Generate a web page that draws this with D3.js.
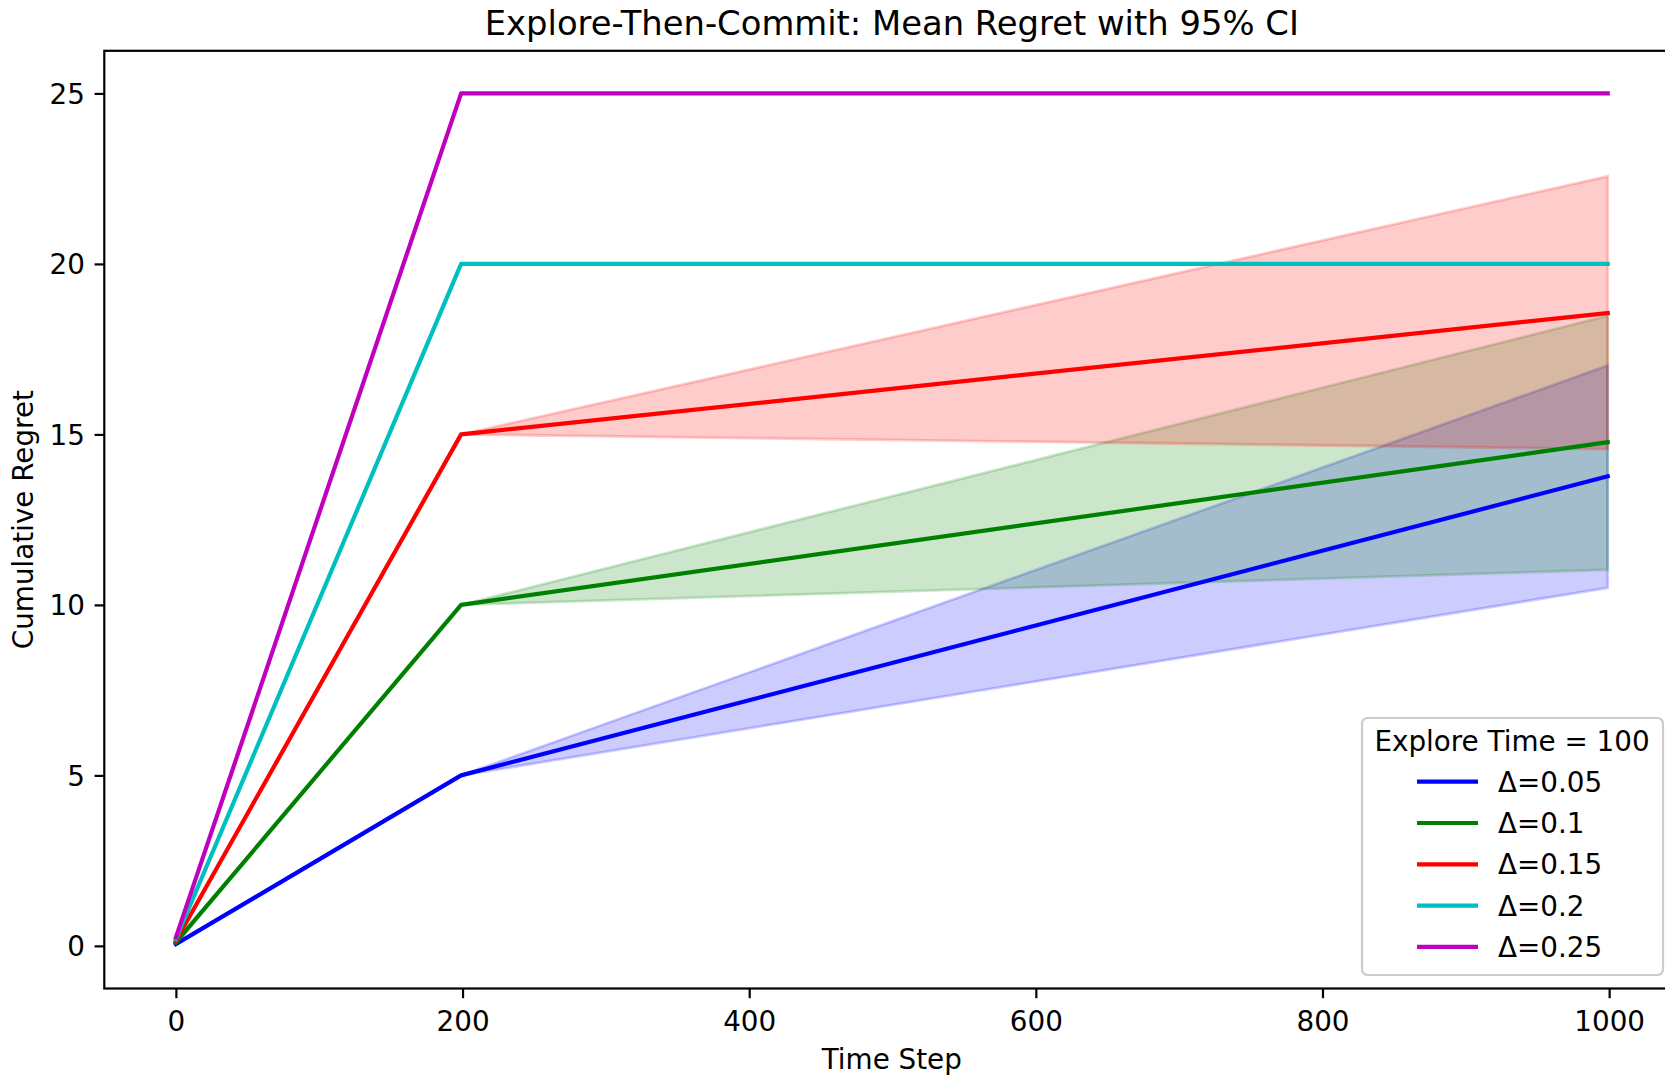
<!DOCTYPE html>
<html>
<head>
<meta charset="utf-8">
<script src="https://cdn.jsdelivr.net/npm/d3@7"></script>
<style>
  body { margin: 0; background: #fff; }
  svg { display: block; font-family: "DejaVu Sans", sans-serif; }
</style>
</head>
<body>
<svg id="chart" width="1665" height="1075"></svg>
<script>
// time steps where the curves are sampled
const timeSteps = [0, 199, 999];
const deltaLabels = ["Δ=0.05", "Δ=0.1", "Δ=0.15", "Δ=0.2", "Δ=0.25"];
const seriesColors = ["#0000ff", "#008000", "#ff0000", "#00bfbf", "#bf00bf"];

// mean cumulative regret per delta
const meanRegret = [
  [0.05, 5, 13.77],
  [0.1, 10, 14.77],
  [0.15, 15, 18.56],
  [0.2, 20, 20],
  [0.25, 25, 25]
];
// 95% CI bounds
const lowerCI = [
  [0.05, 5, 10.5],
  [0.1, 10, 11.03],
  [0.15, 15, 14.57],
  [0.2, 20, 20],
  [0.25, 25, 25]
];
const upperCI = [
  [0.05, 5, 17.02],
  [0.1, 10, 18.48],
  [0.15, 15, 22.57],
  [0.2, 20, 20],
  [0.25, 25, 25]
];
const xTicks = [0, 200, 400, 600, 800, 1000];
const yTicks = [0, 5, 10, 15, 20, 25];

const svg = d3.select("#chart");
const plotLeft = 104.3, plotRight = 1679.3, plotTop = 50.8, plotBottom = 988.5;

let xScale = d3.scaleLinear().domain([-49.95, 1048.95]).range([plotLeft, plotRight]);
let yScale = d3.scaleLinear().domain([-1.25, 26.25]).range([plotBottom, plotTop]);

svg.append("defs").append("clipPath").attr("id", "plotClip")
  .append("rect")
  .attr("x", plotLeft).attr("y", plotTop)
  .attr("width", plotRight - plotLeft).attr("height", plotBottom - plotTop);

const plot = svg.append("g").attr("clip-path", "url(#plotClip)");

// confidence bands (drawn under the lines, like matplotlib zorder)
let band = d3.area()
  .x((d) => xScale(d.t))
  .y0((d) => yScale(d.lo))
  .y1((d) => yScale(d.hi));

meanRegret.forEach((m, i) => {
  let pts = timeSteps.map((t, j) => ({ t: t, lo: lowerCI[i][j], hi: upperCI[i][j] }));
  plot.append("path")
    .datum(pts)
    .attr("d", band)
    .attr("fill", seriesColors[i])
    .attr("fill-opacity", 0.2)
    .attr("stroke", seriesColors[i])
    .attr("stroke-opacity", 0.2)
    .attr("stroke-width", 2.8);
});

let valueLine = d3.line()
  .x((d) => xScale(d.t))
  .y((d) => yScale(d.v));

meanRegret.forEach((m, i) => {
  plot.append("path")
    .datum(timeSteps.map((t, j) => ({ t: t, v: m[j] })))
    .attr("d", valueLine)
    .attr("fill", "none")
    .attr("stroke", seriesColors[i])
    .attr("stroke-width", 4.2)
    .attr("stroke-linecap", "square")
    .attr("stroke-linejoin", "round");
});

// axes
const xAxis = svg.append("g")
  .attr("transform", `translate(0, ${plotBottom})`)
  .call(d3.axisBottom(xScale).tickValues(xTicks).tickFormat(d3.format("d"))
    .tickSize(9.7).tickPadding(11.5).tickSizeOuter(0));
const yAxis = svg.append("g")
  .attr("transform", `translate(${plotLeft}, 0)`)
  .call(d3.axisLeft(yScale).tickValues(yTicks).tickFormat(d3.format("d"))
    .tickSize(9.7).tickPadding(9.7).tickSizeOuter(0));

[xAxis, yAxis].forEach((ax) => {
  ax.select(".domain").remove();
  ax.selectAll(".tick line").attr("stroke", "#000").attr("stroke-width", 2.2);
  ax.selectAll(".tick text")
    .attr("fill", "#000")
    .style("font-family", "DejaVu Sans")
    .style("font-size", "27.8px");
});
xAxis.selectAll(".tick text").attr("dy", "0.76em");
yAxis.selectAll(".tick text").attr("dy", "0.36em");

// spines
svg.append("rect")
  .attr("x", plotLeft).attr("y", plotTop)
  .attr("width", plotRight - plotLeft).attr("height", plotBottom - plotTop)
  .attr("fill", "none")
  .attr("stroke", "#000")
  .attr("stroke-width", 2.2)
  .attr("stroke-linejoin", "miter");

// title and axis labels
svg.append("text")
  .attr("x", (plotLeft + plotRight) / 2)
  .attr("y", 35)
  .attr("text-anchor", "middle")
  .style("font-size", "33.8px")
  .text("Explore-Then-Commit: Mean Regret with 95% CI");

svg.append("text")
  .attr("x", (plotLeft + plotRight) / 2)
  .attr("y", 1069)
  .attr("text-anchor", "middle")
  .style("font-size", "27.8px")
  .text("Time Step");

svg.append("text")
  .attr("transform", `translate(33, ${(plotTop + plotBottom) / 2}) rotate(-90)`)
  .attr("text-anchor", "middle")
  .style("font-size", "27.8px")
  .text("Cumulative Regret");

// legend
const legend = svg.append("g");
legend.append("rect")
  .attr("x", 1362).attr("y", 718)
  .attr("width", 301).attr("height", 257)
  .attr("rx", 5.5)
  .attr("fill", "#fff")
  .attr("fill-opacity", 0.8)
  .attr("stroke", "#cccccc")
  .attr("stroke-width", 2.2);

legend.append("text")
  .attr("x", 1512)
  .attr("y", 751)
  .attr("text-anchor", "middle")
  .style("font-size", "27.8px")
  .text("Explore Time = 100");

deltaLabels.forEach((label, i) => {
  let yy = 781.7 + i * 41.3;
  legend.append("line")
    .attr("x1", 1417).attr("x2", 1478)
    .attr("y1", yy).attr("y2", yy)
    .attr("stroke", seriesColors[i])
    .attr("stroke-width", 4.2);
  legend.append("text")
    .attr("x", 1498)
    .attr("y", yy + 10)
    .style("font-size", "27.8px")
    .text(label);
});
</script>
</body>
</html>
